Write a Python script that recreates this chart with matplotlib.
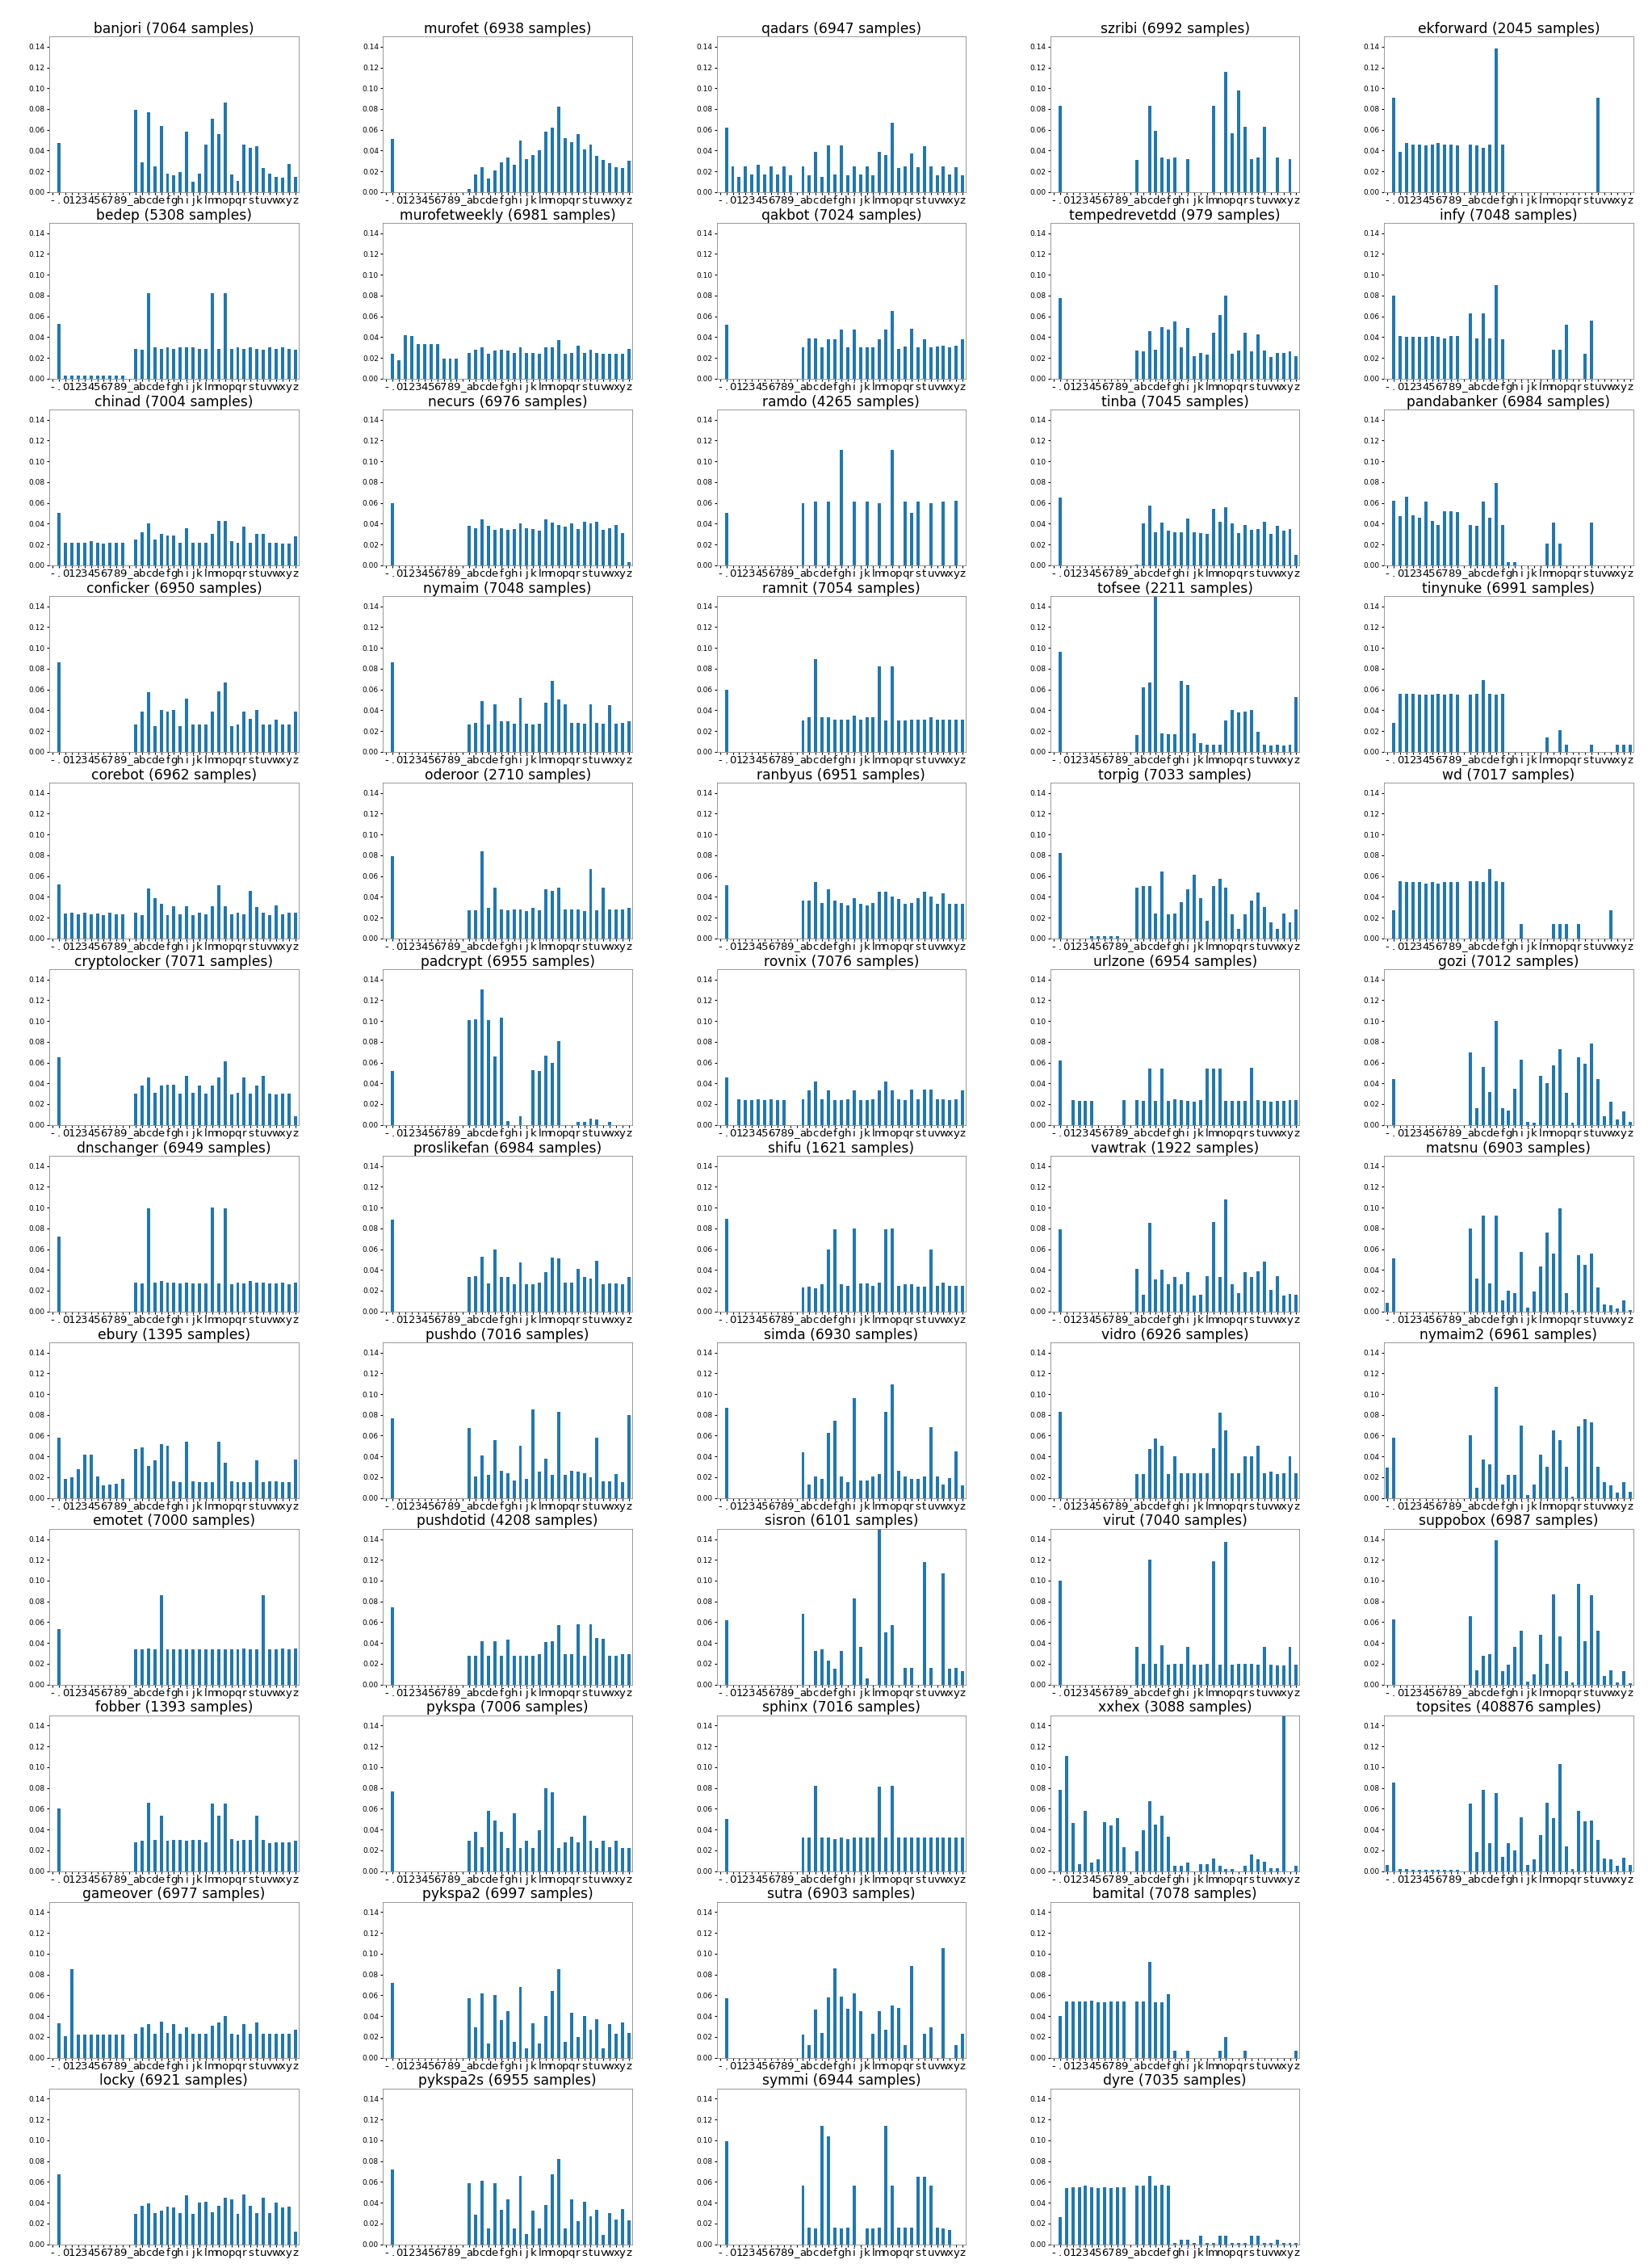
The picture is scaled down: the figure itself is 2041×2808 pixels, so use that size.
import matplotlib
matplotlib.use("Agg")
import matplotlib.pyplot as plt
import numpy as np

categories = list("-.0123456789_abcdefghijklmnopqrstuvwxyz")
ND = [0, 0, 0, 0, 0, 0, 0, 0, 0, 0]

banjori = [0, .047] + ND + [0] + [.079, .029, .077, .025, .064, .018, .016, .019, .058, .010, .018, .046, .071, .056, .086, .017, .011, .046, .043, .044, .023, .018, .015, .014, .027, .015]
murofet = [0, .051] + ND + [0] + [.003, .017, .024, .013, .021, .029, .033, .026, .050, .032, .036, .040, .058, .062, .082, .052, .048, .056, .041, .046, .035, .031, .028, .024, .023, .030]
qadars = [0, .062] + [.025, .015, .025, .017, .026, .017, .025, .017, .025, .016] + [0] + [.025, .016, .039, .015, .045, .017, .045, .016, .025, .017, .025, .016, .039, .036, .067, .023, .025, .037, .024, .044, .025, .016, .025, .017, .024, .016]
szribi = [0, .083] + ND + [0] + [.031, 0, .083, .059, .033, .032, .033, 0, .032, 0, 0, 0, .083, 0, .116, .057, .098, .063, .032, .033, .063, 0, .033, 0, .032, 0]
ekforward = [0, .091] + [.039, .047, .046, .046, .045, .046, .047, .046, .046, .045] + [0] + [.046, .045, .043, .046, .138, .046, 0, 0, 0, 0, 0, 0, 0, 0, 0, 0, 0, 0, 0, 0, .091, 0, 0, 0, 0, 0]
bedep = [0, .053] + [.003, .003, .003, .003, .003, .003, .003, .003, .003, .003] + [0] + [.029, .028, .082, .030, .029, .030, .029, .030, .030, .030, .029, .029, .082, .029, .082, .029, .030, .029, .030, .029, .028, .030, .029, .030, .029, .028]
murofetweekly = [0, .024] + [.018, .042, .041, .033, .033, .033, .033, .019, .019, .019] + [0] + [.025, .028, .030, .024, .027, .028, .027, .025, .030, .025, .025, .024, .030, .030, .037, .024, .025, .032, .025, .028, .025, .024, .024, .024, .024, .029]
qakbot = [0, .052] + ND + [0] + [.030, .039, .039, .030, .038, .038, .047, .030, .047, .030, .030, .030, .038, .047, .065, .029, .031, .048, .030, .038, .030, .031, .032, .030, .032, .038]
tempedrevetdd = [0, .078] + ND + [0] + [.027, .026, .046, .028, .050, .047, .055, .030, .049, .022, .025, .023, .044, .061, .080, .024, .027, .044, .026, .043, .027, .021, .025, .025, .026, .022]
infy = [0, .080] + [.041, .040, .040, .040, .040, .041, .040, .039, .041, .041] + [0] + [.063, .039, .063, .039, .090, .038, 0, 0, 0, 0, 0, 0, 0, .028, .028, .052, 0, 0, .024, .056, 0, 0, 0, 0, 0, 0]
chinad = [0, .050] + [.022, .022, .022, .022, .023, .022, .021, .022, .022, .022] + [0] + [.025, .032, .040, .025, .030, .029, .029, .022, .036, .022, .022, .022, .030, .043, .043, .023, .022, .037, .022, .030, .030, .022, .022, .021, .021, .028]
necurs = [0, .060] + ND + [0] + [.038, .036, .044, .038, .034, .036, .034, .035, .040, .036, .035, .033, .044, .041, .039, .037, .040, .035, .042, .040, .042, .034, .036, .039, .031, .003]
ramdo = [0, .050] + ND + [0] + [.060, 0, .061, 0, .061, 0, .111, 0, .061, 0, .061, 0, .060, 0, .111, 0, .061, .050, .061, 0, .060, 0, .061, 0, .062, 0]
tinba = [0, .065] + ND + [0] + [.001, .040, .057, .032, .041, .033, .032, .032, .045, .032, .031, .030, .054, .042, .056, .040, .031, .039, .034, .035, .042, .030, .038, .033, .035, .010]
pandabanker = [0, .062] + [.047, .066, .048, .046, .061, .043, .039, .052, .052, .051] + [0] + [.039, .038, .061, .046, .079, .039, .003, .003, 0, 0, 0, 0, .021, .041, .021, 0, 0, 0, 0, .041, 0, 0, 0, 0, 0, 0]
conficker = [0, .086] + ND + [0] + [.026, .039, .057, .025, .040, .039, .040, .025, .051, .026, .026, .026, .039, .058, .067, .025, .026, .039, .032, .040, .026, .026, .031, .026, .026, .039]
nymaim = [0, .086] + ND + [0] + [.026, .028, .049, .026, .046, .029, .029, .027, .052, .027, .026, .027, .047, .068, .050, .046, .028, .028, .027, .046, .028, .027, .045, .027, .028, .029]
ramnit = [0, .060] + ND + [0] + [.030, .033, .089, .033, .033, .031, .031, .031, .035, .031, .033, .033, .082, .030, .082, .030, .030, .031, .031, .031, .033, .031, .031, .031, .031, .031]
tofsee = [0, .096] + ND + [0] + [.016, .062, .067, .150, .018, .017, .017, .068, .064, .018, .008, .007, .007, .007, .030, .040, .038, .039, .040, .019, .007, .006, .007, .006, .007, .053]
tinynuke = [0, .028] + [.056, .056, .056, .055, .055, .055, .056, .055, .056, .055] + [0] + [.055, .056, .069, .056, .055, .056, 0, 0, 0, 0, 0, 0, .014, 0, .021, .007, 0, 0, 0, .007, 0, 0, 0, .007, .007, .007]
corebot = [0, .052] + [.024, .025, .023, .025, .023, .024, .022, .025, .023, .023] + [0] + [.025, .022, .048, .039, .033, .022, .031, .023, .031, .022, .025, .023, .031, .051, .031, .023, .025, .023, .046, .030, .025, .022, .032, .023, .025, .025]
oderoor = [0, .079] + ND + [0] + [.027, .027, .084, .029, .049, .028, .027, .028, .028, .026, .029, .027, .047, .046, .049, .028, .028, .028, .026, .067, .027, .049, .028, .028, .028, .029]
ranbyus = [0, .051] + ND + [0] + [.036, .036, .054, .034, .047, .036, .034, .032, .039, .033, .032, .034, .045, .045, .040, .038, .033, .034, .039, .045, .040, .033, .043, .033, .033, .033]
torpig = [0, .082] + [0, 0, 0, 0, .002, .002, .002, .002, .002, 0] + [0] + [.049, .050, .050, .024, .064, .023, .024, .035, .047, .061, .039, .017, .050, .057, .049, .023, .009, .023, .036, .044, .030, .015, .009, .024, .015, .028]
wd = [0, .027] + [.055, .054, .054, .054, .053, .054, .053, .054, .054, .054] + [0] + [.055, .055, .054, .067, .055, .054, 0, 0, .014, 0, 0, 0, 0, .014, .014, .014, 0, .014, 0, 0, 0, 0, .027, 0, 0, 0]
cryptolocker = [0, .065] + ND + [0] + [.030, .038, .046, .031, .038, .039, .039, .030, .047, .031, .038, .030, .038, .046, .061, .029, .031, .046, .030, .038, .047, .030, .029, .030, .030, .008]
padcrypt = [0, .052] + ND + [0] + [.101, .102, .130, .101, .066, .103, .004, 0, .008, 0, .053, .052, .067, .060, .081, 0, 0, .003, .003, .006, .005, 0, .003, 0, 0, 0]
rovnix = [0, .046] + [0, .025, .024, .024, .025, .024, .025, .024, .024, 0] + [0] + [.025, .033, .042, .025, .033, .024, .024, .025, .033, .024, .024, .025, .033, .042, .033, .025, .024, .034, .025, .034, .034, .025, .025, .024, .025, .033]
urlzone = [0, .062] + [0, .024, .023, .023, .023, 0, 0, 0, 0, .024] + [0] + [.024, .023, .054, .023, .054, .023, .025, .024, .023, .022, .024, .054, .054, .054, .023, .023, .023, .023, .055, .024, .023, .022, .023, .023, .024, .024]
gozi = [0, .044] + ND + [0] + [.070, .016, .056, .032, .100, .016, .014, .035, .063, .003, .002, .047, .040, .057, .073, .031, .002, .065, .059, .078, .044, .008, .022, .005, .013, .003]
dnschanger = [0, .072] + ND + [0] + [.028, .027, .099, .028, .029, .028, .028, .027, .028, .027, .027, .027, .100, .027, .099, .026, .028, .027, .029, .028, .028, .027, .027, .028, .026, .028]
proslikefan = [0, .088] + ND + [0] + [.033, .034, .053, .027, .060, .033, .033, .026, .047, .026, .026, .028, .038, .052, .051, .028, .028, .041, .033, .032, .049, .026, .027, .027, .026, .033]
shifu = [0, .089] + ND + [0] + [.023, .024, .022, .026, .060, .079, .026, .025, .080, .027, .027, .025, .028, .079, .080, .025, .026, .026, .024, .024, .060, .025, .028, .025, .025, .025]
vawtrak = [0, .079] + ND + [0] + [.041, .016, .085, .031, .040, .026, .033, .026, .038, .015, .016, .034, .086, .033, .108, .026, .018, .038, .033, .039, .048, .021, .034, .015, .017, .016]
matsnu = [.008, .051] + ND + [0] + [.080, .032, .092, .027, .092, .011, .020, .018, .057, .004, .019, .043, .076, .056, .099, .018, .001, .054, .045, .056, .023, .007, .006, .003, .011, .001]
ebury = [0, .058] + [.018, .020, .028, .042, .042, .021, .012, .013, .014, .018] + [0] + [.047, .049, .031, .036, .052, .050, .016, .015, .054, .016, .015, .015, .015, .054, .034, .016, .015, .015, .015, .036, .015, .016, .016, .015, .015, .037]
pushdo = [0, .077] + ND + [0] + [.067, .021, .041, .022, .056, .026, .024, .017, .050, .018, .085, .025, .038, .022, .083, .022, .026, .025, .024, .020, .058, .016, .016, .023, .015, .080]
simda = [0, .087] + ND + [0] + [.044, .013, .021, .018, .063, .074, .021, .015, .096, .017, .017, .021, .023, .083, .109, .026, .021, .018, .018, .021, .068, .021, .013, .019, .045, .012]
vidro = [0, .083] + ND + [0] + [.023, .023, .047, .057, .050, .023, .040, .024, .024, .024, .024, .024, .048, .082, .065, .024, .024, .040, .040, .050, .024, .025, .023, .024, .040, .024]
nymaim2 = [.029, .058] + ND + [0] + [.060, .010, .037, .032, .107, .013, .022, .022, .070, .003, .013, .042, .030, .065, .056, .030, .001, .069, .076, .073, .030, .015, .012, .005, .015, .006]
emotet = [0, .053] + ND + [0] + [.034, .034, .035, .034, .086, .034, .034, .034, .034, .034, .034, .034, .034, .034, .034, .034, .034, .035, .034, .034, .086, .034, .034, .035, .034, .035]
pushdotid = [0, .074] + ND + [0] + [.028, .028, .042, .028, .042, .028, .043, .028, .028, .028, .028, .029, .041, .042, .057, .029, .029, .058, .028, .058, .045, .044, .028, .028, .029, .029]
sisron = [0, .062] + ND + [0] + [.068, 0, .032, .034, .023, .015, .032, 0, .083, .036, .006, 0, .150, .050, .057, 0, .016, .016, 0, .118, .016, 0, .107, .015, .016, .013]
virut = [0, .100] + ND + [0] + [.036, .020, .120, .020, .038, .019, .020, .020, .036, .019, .019, .020, .119, .019, .137, .019, .020, .020, .020, .019, .036, .019, .018, .018, .036, .019]
suppobox = [0, .063] + ND + [0] + [.066, .014, .028, .029, .139, .013, .019, .036, .052, .003, .010, .048, .020, .087, .046, .013, .002, .097, .042, .086, .052, .008, .014, .002, .013, .001]
fobber = [0, .060] + ND + [0] + [.028, .029, .066, .030, .053, .029, .030, .030, .029, .030, .030, .028, .065, .053, .065, .031, .029, .030, .030, .053, .030, .027, .028, .028, .028, .029]
pykspa = [0, .077] + ND + [0] + [.029, .038, .023, .058, .049, .038, .022, .056, .022, .029, .022, .039, .080, .076, .022, .028, .033, .028, .053, .029, .022, .029, .023, .029, .022, .022]
sphinx = [0, .050] + ND + [0] + [.032, .032, .082, .032, .032, .031, .032, .031, .032, .032, .032, .032, .081, .032, .082, .032, .032, .032, .032, .032, .032, .032, .032, .032, .032, .032]
xxhex = [0, .078] + [.111, .046, .007, .058, .008, .011, .047, .044, .051, .023] + [0] + [.019, .039, .067, .045, .053, .033, .005, .005, .008, 0, .007, .007, .012, .005, .002, .002, 0, .005, .016, .011, .009, .003, .003, .150, 0, .005]
topsites = [.006, .085] + [.002, .002, .001, .001, .001, .001, .001, .001, .001, .001] + [0] + [.065, .018, .078, .027, .075, .014, .027, .020, .052, .006, .011, .035, .066, .051, .103, .024, .002, .058, .048, .049, .030, .012, .011, .005, .013, .006]
gameover = [0, .033] + [.021, .085, .022, .022, .022, .022, .022, .022, .022, .022] + [0] + [.023, .029, .032, .023, .035, .024, .032, .023, .029, .023, .023, .023, .031, .034, .040, .023, .022, .032, .023, .034, .023, .023, .023, .023, .023, .027]
pykspa2 = [0, .072] + ND + [0] + [.057, .029, .062, .014, .060, .036, .045, .015, .068, .009, .033, .014, .040, .064, .085, .015, .043, .020, .040, .027, .037, .009, .032, .023, .034, .024]
sutra = [0, .057] + ND + [0] + [.022, .012, .046, .024, .058, .086, .059, .047, .062, .045, 0, .023, .045, .027, .050, .048, .012, .088, 0, .023, .029, 0, .105, 0, .012, .023]
bamital = [0, .040] + [.054, .054, .054, .054, .055, .053, .053, .054, .054, .054] + [0] + [.054, .054, .092, .053, .053, .061, .007, 0, .007, 0, 0, 0, 0, .007, .020, 0, 0, .007, 0, 0, 0, 0, 0, 0, 0, .007]
locky = [0, .067] + ND + [0] + [.029, .037, .039, .030, .032, .036, .035, .030, .047, .029, .040, .041, .031, .037, .045, .043, .029, .048, .037, .030, .045, .030, .040, .035, .036, .012]
pykspa2s = [0, .072] + ND + [0] + [.059, .028, .061, .015, .059, .033, .043, .015, .066, .010, .032, .015, .038, .067, .082, .015, .043, .022, .041, .027, .033, .009, .030, .024, .034, .023]
symmi = [0, .099] + ND + [0] + [.056, .016, .015, .114, .104, .016, .015, .016, .056, 0, .015, .015, .016, .114, .056, .016, .016, .016, .065, .065, .056, .016, .015, .014, 0, 0]
dyre = [0, .026] + [.054, .055, .055, .056, .055, .054, .055, .054, .055, .055] + [0] + [.056, .056, .066, .056, .057, .056, .001, .004, .004, .001, .008, .001, .001, .008, .008, .001, .001, .001, .008, .008, .001, .001, .004, .001, .001, .001]

families = ["banjori", "murofet", "qadars", "szribi", "ekforward",
            "bedep", "murofetweekly", "qakbot", "tempedrevetdd", "infy",
            "chinad", "necurs", "ramdo", "tinba", "pandabanker",
            "conficker", "nymaim", "ramnit", "tofsee", "tinynuke",
            "corebot", "oderoor", "ranbyus", "torpig", "wd",
            "cryptolocker", "padcrypt", "rovnix", "urlzone", "gozi",
            "dnschanger", "proslikefan", "shifu", "vawtrak", "matsnu",
            "ebury", "pushdo", "simda", "vidro", "nymaim2",
            "emotet", "pushdotid", "sisron", "virut", "suppobox",
            "fobber", "pykspa", "sphinx", "xxhex", "topsites",
            "gameover", "pykspa2", "sutra", "bamital", None,
            "locky", "pykspa2s", "symmi", "dyre", None]
samples = {"banjori": 7064, "murofet": 6938, "qadars": 6947, "szribi": 6992, "ekforward": 2045,
           "bedep": 5308, "murofetweekly": 6981, "qakbot": 7024, "tempedrevetdd": 979, "infy": 7048,
           "chinad": 7004, "necurs": 6976, "ramdo": 4265, "tinba": 7045, "pandabanker": 6984,
           "conficker": 6950, "nymaim": 7048, "ramnit": 7054, "tofsee": 2211, "tinynuke": 6991,
           "corebot": 6962, "oderoor": 2710, "ranbyus": 6951, "torpig": 7033, "wd": 7017,
           "cryptolocker": 7071, "padcrypt": 6955, "rovnix": 7076, "urlzone": 6954, "gozi": 7012,
           "dnschanger": 6949, "proslikefan": 6984, "shifu": 1621, "vawtrak": 1922, "matsnu": 6903,
           "ebury": 1395, "pushdo": 7016, "simda": 6930, "vidro": 6926, "nymaim2": 6961,
           "emotet": 7000, "pushdotid": 4208, "sisron": 6101, "virut": 7040, "suppobox": 6987,
           "fobber": 1393, "pykspa": 7006, "sphinx": 7016, "xxhex": 3088, "topsites": 408876,
           "gameover": 6977, "pykspa2": 6997, "sutra": 6903, "bamital": 7078,
           "locky": 6921, "pykspa2s": 6955, "symmi": 6944, "dyre": 7035}

fig, axes = plt.subplots(12, 5, figsize=(20.41, 28.08), dpi=100)
fig.subplots_adjust(left=0.030, right=0.991, top=0.984, bottom=0.0105, wspace=0.34, hspace=0.197)
x = np.arange(len(categories))
for ax, name in zip(axes.flat, families):
    if name is None:
        ax.axis("off")
        continue
    vals = globals()[name]
    ax.bar(x, vals, width=0.5, color="#1f77b4")
    ax.set_xlim(-0.5, len(categories) - 0.5)
    ax.set_ylim(0, 0.15)
    ax.set_yticks(np.arange(0, 0.141, 0.02))
    ax.set_yticklabels([f"{v:.2f}" for v in np.arange(0, 0.141, 0.02)], fontsize=6.5)
    ax.set_xticks(x)
    ax.set_xticklabels(categories, fontsize=9.5, rotation=0)
    ax.tick_params(axis="x", length=2, pad=1)
    ax.tick_params(axis="y", length=2, pad=2)
    ax.set_title(f"{name} ({samples[name]} samples)", fontsize=12.3, pad=3)
    for s in ax.spines.values():
        s.set_linewidth(0.6)
        s.set_color("#888888")
fig.savefig("out.png", dpi=100)
